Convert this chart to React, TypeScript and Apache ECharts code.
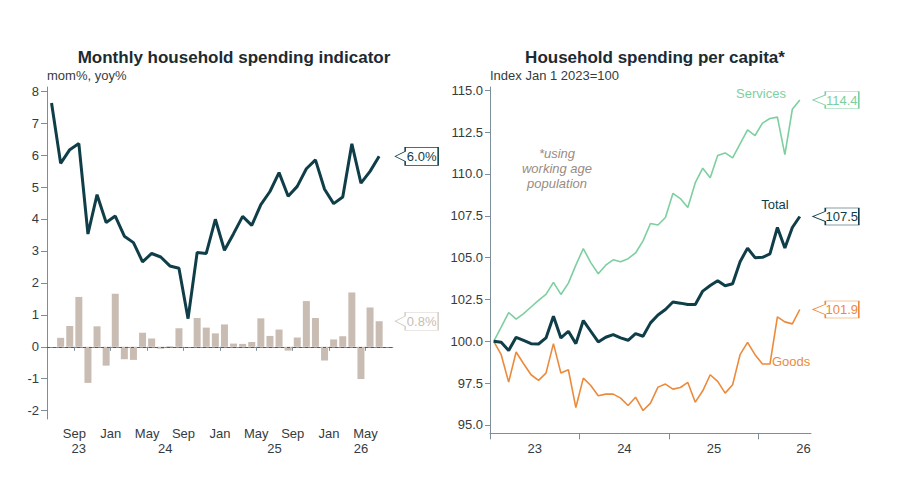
import React, { useEffect, useRef } from "react";
import * as echarts from "echarts";

const FONT = "'Liberation Sans', Arial, Helvetica, sans-serif";

// ---------- data ----------
const months = [
  "2023-01", "2023-02", "2023-03", "2023-04", "2023-05", "2023-06", "2023-07", "2023-08", "2023-09", "2023-10", "2023-11", "2023-12",
  "2024-01", "2024-02", "2024-03", "2024-04", "2024-05", "2024-06", "2024-07", "2024-08", "2024-09", "2024-10", "2024-11", "2024-12",
  "2025-01", "2025-02", "2025-03", "2025-04", "2025-05", "2025-06", "2025-07", "2025-08", "2025-09", "2025-10", "2025-11", "2025-12",
  "2026-01", "2026-02", "2026-03", "2026-04", "2026-05", "2026-06",
];

// Left panel: yoy% line (Jun 2023 - Jun 2026)
const yoyMonths = months.slice(5);
const yoyGrowth = [
  7.63, 5.74, 6.17, 6.36, 3.53, 4.76, 3.89,
  4.09, 3.46, 3.26, 2.66, 2.92, 2.81, 2.53, 2.46, 0.88, 2.95, 2.92, 3.99,
  3.02, 3.54, 4.08, 3.8, 4.45, 4.86, 5.45, 4.71, 5.02, 5.57, 5.85, 4.93,
  4.48, 4.69, 6.35, 5.12, 5.49, 5.96,
];
// Left panel: mom% bars (Jul 2023 - Jun 2026)
const momMonths = months.slice(6);
const momGrowth = [
  0.28, 0.65, 1.56, -1.13, 0.64, -0.59,
  1.66, -0.39, -0.41, 0.44, 0.26, -0.06, 0.02, 0.58, 0.0, 0.9, 0.6, 0.42,
  0.7, 0.1, 0.09, 0.15, 0.89, 0.34, 0.54, -0.12, 0.29, 1.43, 0.9, -0.43,
  0.23, 0.33, 1.7, -1.01, 1.23, 0.8,
];
const leftAxisStart = "2023-06";
const leftAxisEnd = "2026-08";
const leftTickMonths = ["2023-09", "2024-01", "2024-05", "2024-09", "2025-01", "2025-05", "2025-09", "2026-01", "2026-05"];
const leftTickLabels = ["Sep", "Jan", "May", "Sep", "Jan", "May", "Sep", "Jan", "May"];
const yearNumbers = [2023, 2024, 2025, 2026];
const yearLabels = ["23", "24", "25", "26"];
const leftYTicks = [-2, -1, 0, 1, 2, 3, 4, 5, 6, 7, 8];

// Right panel: index Jan 2023 = 100 (Jan 2023 - Jun 2026)
const servicesIndex = [
  100.0, 100.85, 101.72, 101.32, 101.65, 102.05, 102.45, 102.8, 103.52, 102.8,
  103.48, 104.55, 105.54, 104.7, 104.04, 104.55, 104.87, 104.75, 104.94, 105.28,
  106.0, 107.04, 106.95, 107.4, 108.84, 108.53, 108.0, 109.48, 110.35, 109.77,
  111.1, 111.26, 110.96, 111.8, 112.64, 112.3, 113.04, 113.32, 113.4, 111.16,
  113.87, 114.42,
];
const totalIndex = [
  100.0, 99.94, 99.45, 100.24, 100.06, 99.86, 99.84, 100.2, 101.5, 100.2,
  100.6, 99.86, 101.24, 100.6, 99.96, 100.24, 100.4, 100.2, 100.06, 100.46,
  100.3, 101.1, 101.57, 101.9, 102.35, 102.28, 102.2, 102.2, 103.0, 103.33,
  103.62, 103.32, 103.44, 104.76, 105.57, 105.0, 105.02, 105.22, 106.8, 105.57,
  106.8, 107.46,
];
const goodsIndex = [
  100.0, 99.2, 97.56, 99.36, 98.66, 98.0, 97.66, 98.1, 99.86, 98.1,
  98.3, 96.04, 97.8, 97.36, 96.74, 96.84, 96.84, 96.6, 96.16, 96.66,
  95.86, 96.3, 97.26, 97.44, 97.14, 97.24, 97.54, 96.36, 97.04, 98.0,
  97.6, 96.9, 97.4, 99.2, 99.94, 99.2, 98.64, 98.64, 101.46, 101.16,
  101.04, 101.9,
];
const rightAxisStart = "2023-01";
const rightAxisEnd = "2026-08";
const rightTickMonths = ["2023-01", "2024-01", "2025-01", "2026-01"];
const rightYTicks = [95, 97.5, 100, 102.5, 105, 107.5, 110, 112.5, 115];

// ---------- styles ----------
const C_DARK = "#0f3e49";
const C_SERV = "#7dcfa0";
const C_GOODS = "#ec8a3c";
const C_BAR = "#c9bcb3";
const C_BAR_BORDER = "#d8cec7";
const C_AXIS = "#7d8e9b";
const C_TEXT = "#353b40";
const C_TITLE = "#1b2b33";
const C_NOTE = "#9b8b7f";

const monthIndex = (m: string) => (Number(m.slice(0, 4)) - 2023) * 12 + Number(m.slice(5, 7)) - 1;
const mid = (m: string) => monthIndex(m) + 0.5;

function callout(coord: number[], text: string, color: string, border: string, left: boolean) {
  const path = left
    ? "path://M0,9L10,4L10,0L43,0L43,18L10,18L10,14Z"
    : "path://M0,8.5L12.5,3.5L12.5,0L46,0L46,17L12.5,17L12.5,13.5Z";
  return {
    silent: true,
    symbol: path,
    symbolSize: left ? [43, 18] : [46, 17],
    symbolOffset: left ? [37.5, 0] : [36, 0],
    itemStyle: { color: "#ffffff", borderColor: border, borderWidth: 1 },
    label: {
      show: true,
      position: "inside",
      offset: left ? [5, 0] : [6, 0],
      formatter: text,
      color,
      fontSize: 13,
      fontFamily: FONT,
    },
    data: [{ coord }],
  };
}

function text(x: number, y: number, t: string, opts: any = {}) {
  return {
    type: "text",
    silent: true,
    style: {
      x,
      y,
      text: t,
      fill: opts.fill || C_TEXT,
      fontSize: opts.fontSize || 13,
      fontWeight: opts.fontWeight || "normal",
      fontStyle: opts.fontStyle || "normal",
      fontFamily: FONT,
      align: opts.align || "left",
      verticalAlign: "middle",
      lineHeight: opts.lineHeight || 15,
    },
  };
}

export default function App() {
  const ref = useRef<HTMLDivElement>(null);

  useEffect(() => {
    if (!ref.current) return;
    const chart = echarts.init(ref.current, undefined, { renderer: "svg" });

    const lMin = monthIndex(leftAxisStart);
    const lMax = monthIndex(leftAxisEnd);
    const rMin = monthIndex(rightAxisStart);
    const rMax = monthIndex(rightAxisEnd);

    const leftTickVals = leftTickMonths.map(monthIndex);
    const leftLabelMap: Record<number, string> = {};
    leftTickVals.forEach((v, i) => (leftLabelMap[v] = leftTickLabels[i]));

    const yearCenters = yearNumbers.map((y) => {
      const a = Math.max(lMin, (y - 2023) * 12);
      const b = Math.min(lMax, (y - 2022) * 12);
      return (a + b) / 2;
    });
    const yearMap: Record<string, string> = {};
    yearCenters.forEach((v, i) => (yearMap[String(v)] = yearLabels[i]));

    const rightTickVals = rightTickMonths.map(monthIndex);
    const rightLabelVals = rightTickVals.map((v) => v + 6);
    const rightLabelMap: Record<string, string> = {};
    rightLabelVals.forEach((v, i) => (rightLabelMap[String(v)] = yearLabels[i]));

    const axisLine = { show: true, lineStyle: { color: C_AXIS, width: 1 } };
    const axisLabelBase = { color: C_TEXT, fontSize: 13, fontFamily: FONT };

    const lastYoy = yoyGrowth[yoyGrowth.length - 1];
    const lastMom = momGrowth[momGrowth.length - 1];
    const lastM = months[months.length - 1];

    const option: any = {
      animation: false,
      backgroundColor: "#ffffff",
      grid: [
        { left: 47, top: 87, width: 345.8, height: 332 },
        { left: 490, top: 87, width: 321, height: 346.3 },
      ],
      xAxis: [
        {
          type: "value",
          gridIndex: 0,
          position: "bottom",
          min: lMin,
          max: lMax,
          axisLine,
          splitLine: { show: false },
          axisTick: { show: true, customValues: leftTickVals, length: 4, lineStyle: { color: C_AXIS } },
          axisLabel: {
            ...axisLabelBase,
            customValues: leftTickVals,
            margin: 8,
            formatter: (v: number) => leftLabelMap[v] || "",
          },
        },
        {
          type: "value",
          gridIndex: 0,
          position: "bottom",
          min: lMin,
          max: lMax,
          axisLine: { show: false },
          splitLine: { show: false },
          axisTick: { show: false },
          axisLabel: {
            ...axisLabelBase,
            customValues: yearCenters,
            margin: 23,
            formatter: (v: number) => yearMap[String(v)] || "",
          },
        },
        {
          type: "value",
          gridIndex: 1,
          position: "bottom",
          min: rMin,
          max: rMax,
          axisLine,
          splitLine: { show: false },
          axisTick: { show: true, customValues: rightTickVals, length: 6, lineStyle: { color: C_AXIS } },
          axisLabel: {
            ...axisLabelBase,
            customValues: rightLabelVals,
            margin: 9,
            formatter: (v: number) => rightLabelMap[String(v)] || "",
          },
        },
      ],
      yAxis: [
        {
          type: "value",
          gridIndex: 0,
          min: -2.26,
          max: 8.13,
          axisLine,
          splitLine: { show: false },
          axisTick: { show: true, customValues: leftYTicks, length: 6, lineStyle: { color: C_AXIS } },
          axisLabel: { ...axisLabelBase, customValues: leftYTicks, margin: 8 },
        },
        {
          type: "value",
          gridIndex: 1,
          min: 94.5,
          max: 115.2,
          axisLine,
          splitLine: { show: false },
          axisTick: { show: true, customValues: rightYTicks, length: 5, lineStyle: { color: C_AXIS } },
          axisLabel: {
            ...axisLabelBase,
            customValues: rightYTicks,
            margin: 7,
            formatter: (v: number) => v.toFixed(1),
          },
        },
      ],
      series: [
        {
          name: "mom%",
          type: "bar",
          xAxisIndex: 0,
          yAxisIndex: 0,
          barWidth: 7,
          silent: true,
          clip: false,
          itemStyle: { color: C_BAR },
          data: momMonths.map((m, i) => [mid(m), momGrowth[i]]),
          markLine: {
            silent: true,
            symbol: ["none", "none"],
            label: { show: false },
            lineStyle: { color: "#555b60", width: 1, type: [3, 3] },
            data: [{ yAxis: 0 }],
          },
          markPoint: callout([mid(lastM), lastMom], lastMom.toFixed(1) + "%", C_BAR, C_BAR_BORDER, true),
        },
        {
          name: "yoy%",
          type: "line",
          xAxisIndex: 0,
          yAxisIndex: 0,
          z: 4,
          silent: true,
          clip: false,
          symbol: "none",
          lineStyle: { color: C_DARK, width: 3 },
          data: yoyMonths.map((m, i) => [mid(m), yoyGrowth[i]]),
          markPoint: callout([mid(lastM), lastYoy], lastYoy.toFixed(1) + "%", C_DARK, C_DARK, true),
        },
        {
          name: "Services",
          type: "line",
          xAxisIndex: 2,
          yAxisIndex: 1,
          silent: true,
          clip: false,
          symbol: "none",
          lineStyle: { color: C_SERV, width: 1.6 },
          data: months.map((m, i) => [mid(m), servicesIndex[i]]),
          markPoint: callout(
            [mid(lastM), servicesIndex[servicesIndex.length - 1]],
            servicesIndex[servicesIndex.length - 1].toFixed(1),
            C_SERV,
            C_SERV,
            false
          ),
        },
        {
          name: "Goods",
          type: "line",
          xAxisIndex: 2,
          yAxisIndex: 1,
          silent: true,
          clip: false,
          symbol: "none",
          lineStyle: { color: C_GOODS, width: 1.6 },
          data: months.map((m, i) => [mid(m), goodsIndex[i]]),
          markPoint: callout(
            [mid(lastM), goodsIndex[goodsIndex.length - 1]],
            goodsIndex[goodsIndex.length - 1].toFixed(1),
            C_GOODS,
            C_GOODS,
            false
          ),
        },
        {
          name: "Total",
          type: "line",
          xAxisIndex: 2,
          yAxisIndex: 1,
          z: 4,
          silent: true,
          clip: false,
          symbol: "none",
          lineStyle: { color: C_DARK, width: 3 },
          data: months.map((m, i) => [mid(m), totalIndex[i]]),
          markPoint: callout(
            [mid(lastM), totalIndex[totalIndex.length - 1]],
            totalIndex[totalIndex.length - 1].toFixed(1),
            C_DARK,
            C_DARK,
            false
          ),
        },
      ],
      graphic: [
        text(234, 57, "Monthly household spending indicator", { fontSize: 17, fontWeight: "bold", fill: C_TITLE, align: "center" }),
        text(655, 57, "Household spending per capita*", { fontSize: 17, fontWeight: "bold", fill: C_TITLE, align: "center" }),
        text(47, 75.5, "mom%, yoy%"),
        text(490, 75, "Index Jan 1 2023=100"),
        text(761, 93.5, "Services", { fill: C_SERV, align: "center" }),
        text(775, 204.5, "Total", { fill: C_DARK, align: "center" }),
        text(772, 361, "Goods", { fill: C_GOODS }),
        text(557, 168, "*using\nworking age\npopulation", { fill: C_NOTE, align: "center", fontStyle: "italic", lineHeight: 15 }),
      ],
    };

    chart.setOption(option);
    return () => chart.dispose();
  }, []);

  return <div ref={ref} style={{ position: "fixed", left: 0, top: 0, width: 900, height: 497 }} />;
}
